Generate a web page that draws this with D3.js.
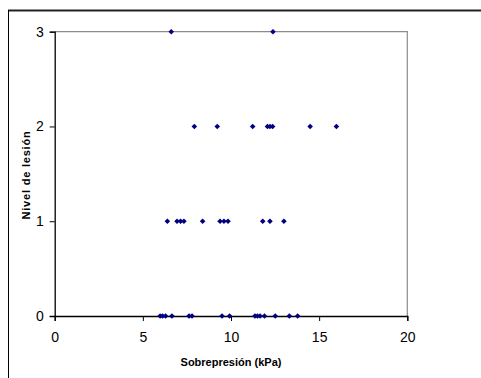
<!DOCTYPE html>
<html><head><meta charset="utf-8">
<script src="https://cdn.jsdelivr.net/npm/d3@7"></script>
<style>body{margin:0;background:#fff}svg{display:block}</style>
</head><body>
<script>
const xTicks = [0, 5, 10, 15, 20];
const yTicks = [0, 1, 2, 3];
const level0 = [5.98, 6.12, 6.29, 6.65, 7.62, 7.79, 9.49, 9.92, 11.36, 11.5, 11.65, 11.9, 12.51, 13.31, 13.78];
const level1 = [6.39, 6.94, 7.14, 7.33, 8.39, 9.38, 9.6, 9.83, 11.8, 12.21, 13.0];
const level2 = [7.92, 9.22, 11.23, 12.07, 12.21, 12.36, 14.49, 15.98];
const level3 = [6.61, 12.38];
const xTitle = "Sobrepresión (kPa)";
const yTitle = "Nivel de lesión";

const W = 481, H = 378;
const svg = d3.select("body").append("svg").attr("width", W).attr("height", H);
// outer chart border
svg.append("line").attr("x1", 8).attr("x2", W).attr("y1", 10.5).attr("y2", 10.5).attr("stroke", "#222").attr("stroke-width", 2);
svg.append("line").attr("x1", 8.5).attr("x2", 8.5).attr("y1", 10).attr("y2", H).attr("stroke", "#000").attr("stroke-width", 1);

const L = 54.7, R = 407.3, T = 31.7, B = 316;
const x = d3.scaleLinear().domain([0, 20]).range([L, R]);
const y = d3.scaleLinear().domain([0, 3]).range([B, T]);

// plot frame (top/right gray)
svg.append("path").attr("d", `M${L},${T}H${R}V${B}`).attr("fill", "none").attr("stroke", "#8c8c8c").attr("stroke-width", 1.2);

const font = "Liberation Sans, Arial, sans-serif";
const xAxis = svg.append("g").attr("transform", `translate(0,${B})`)
  .call(d3.axisBottom(x).tickValues(xTicks).tickSize(5).tickPadding(11).tickFormat(d3.format("d")));
const yAxis = svg.append("g").attr("transform", `translate(${L},0)`)
  .call(d3.axisLeft(y).tickValues(yTicks).tickSize(5).tickPadding(6).tickFormat(d3.format("d")));
[xAxis, yAxis].forEach(a => {
  a.select(".domain").attr("stroke", "#000").attr("stroke-width", 1.3);
  a.selectAll(".tick line").attr("stroke", "#000");
  a.selectAll(".tick text").attr("font-family", font).attr("font-size", 14).attr("fill", "#000");
});

const pts = [];
[level0, level1, level2, level3].forEach((arr, lvl) => arr.forEach(v => pts.push({x: v, y: lvl})));
const r = 2.8;
svg.append("g").selectAll("path").data(pts).join("path")
  .attr("d", `M0,${-r}L${r},0L0,${r}L${-r},0Z`)
  .attr("transform", d => `translate(${x(d.x)},${y(d.y)})`)
  .attr("fill", "#000080");

svg.append("text").attr("x", 231).attr("y", 366).attr("text-anchor", "middle")
  .attr("font-family", font).attr("font-weight", "bold").attr("font-size", 11).text(xTitle);
svg.append("text").attr("transform", `translate(30,175) rotate(-90)`).attr("text-anchor", "middle")
  .attr("font-family", font).attr("font-weight", "bold").attr("font-size", 11).attr("letter-spacing", 0.8).text(yTitle);
</script>
</body></html>
